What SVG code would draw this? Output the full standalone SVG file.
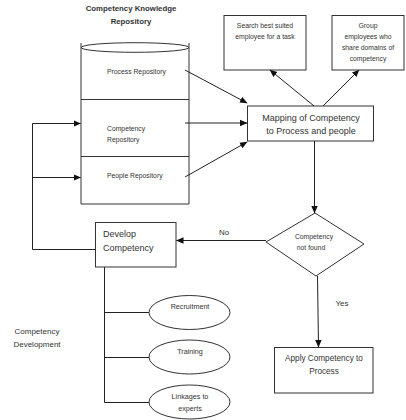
<svg xmlns="http://www.w3.org/2000/svg" width="406" height="420" viewBox="0 0 406 420">
<defs>
<marker id="ah" markerUnits="userSpaceOnUse" markerWidth="8" markerHeight="8" viewBox="0 0 8 8" refX="7" refY="4" orient="auto">
<path d="M0,0.8 L7.5,4 L0,7.2 Z" fill="#111"/>
</marker>
<style>
.s{fill:none;stroke:#333;stroke-width:1}
.b{fill:#fff;stroke:#333;stroke-width:1}
.c{stroke:#222;stroke-width:1;fill:none}
.a{marker-end:url(#ah)}
text{font-family:"Liberation Sans",Arial,sans-serif;fill:#333}
.m{text-anchor:middle}
</style>
</defs>
<rect width="406" height="420" fill="#fff"/>
<g id="title">
<text x="131" y="10.5" class="m" font-size="7.8" font-weight="bold" fill="#222">Competency Knowledge</text>
<text x="131" y="23.5" class="m" font-size="7.8" font-weight="bold" fill="#222">Repository</text>
</g>
<g id="repository">
<path class="s" d="M81,43 V204 H189 V43"/>
<ellipse class="s" cx="135" cy="47.5" rx="54" ry="4.8"/>
<line class="s" x1="81" y1="99.5" x2="189" y2="99.5"/>
<line class="s" x1="81" y1="156.5" x2="189" y2="156.5"/>
</g>
<g id="process-repository">
<text x="107" y="73.5" font-size="6.8">Process Repository</text>
</g>
<g id="competency-repository">
<text x="107" y="130.5" font-size="6.8">Competency</text>
<text x="107" y="141.5" font-size="6.8">Repository</text>
</g>
<g id="people-repository">
<text x="107" y="178" font-size="6.8">People Repository</text>
</g>
<g id="search">
<rect class="b" x="224" y="15.5" width="82" height="54.5"/>
<text x="265" y="27.5" class="m" font-size="6.8">Search best suited</text>
<text x="265" y="38.5" class="m" font-size="6.8">employee for a task</text>
</g>
<g id="group">
<rect class="b" x="332" y="15.5" width="72" height="54.5"/>
<text x="368" y="27.5" class="m" font-size="6.8">Group</text>
<text x="368" y="38.5" class="m" font-size="6.8">employees who</text>
<text x="368" y="49.5" class="m" font-size="6.8">share domains of</text>
<text x="368" y="60.5" class="m" font-size="6.8">competency</text>
</g>
<g id="mapping">
<rect class="b" x="247.5" y="106" width="126" height="35"/>
<text x="311" y="120.5" class="m" font-size="9">Mapping of Competency</text>
<text x="311" y="133.5" class="m" font-size="9">to Process and people</text>
</g>
<g id="decision">
<polygon class="b" points="315,213 364,244 316,276 266,242"/>
<text x="314" y="238.5" class="m" font-size="6.8">Competency</text>
<text x="311" y="249.5" class="m" font-size="6.8">not found</text>
</g>
<g id="develop">
<rect class="b" x="95.5" y="222.5" width="80.5" height="44.5"/>
<text x="103" y="236.5" font-size="9">Develop</text>
<text x="103" y="250.5" font-size="9">Competency</text>
</g>
<g id="apply">
<rect class="b" x="274.5" y="347.5" width="98.5" height="45.5"/>
<text x="324" y="361" class="m" font-size="8.2">Apply Competency to</text>
<text x="324" y="374" class="m" font-size="8.2">Process</text>
</g>
<g id="recruitment">
<ellipse class="b" cx="189.5" cy="312.5" rx="40.5" ry="17"/>
<text x="190" y="309" class="m" font-size="7.2">Recruitment</text>
</g>
<g id="training">
<ellipse class="b" cx="189.5" cy="357" rx="40.5" ry="17"/>
<text x="190" y="354" class="m" font-size="7.2">Training</text>
</g>
<g id="linkages">
<ellipse class="b" cx="189.5" cy="402" rx="40.5" ry="17"/>
<text x="190" y="399" class="m" font-size="7.2">Linkages to</text>
<text x="190" y="411" class="m" font-size="7.2">experts</text>
</g>
<g id="development-label">
<text x="37" y="334" class="m" font-size="8">Competency</text>
<text x="37" y="346.5" class="m" font-size="8">Development</text>
</g>
<g id="connectors">
<line class="c a" x1="185" y1="70" x2="247" y2="103"/>
<line class="c a" x1="185" y1="123" x2="247" y2="123"/>
<line class="c a" x1="185" y1="177" x2="247" y2="142"/>
<line class="c a" x1="314" y1="106" x2="270" y2="70"/>
<line class="c a" x1="323" y1="106" x2="359" y2="70"/>
<line class="c a" x1="314.5" y1="141" x2="314.5" y2="213"/>
<line class="c a" x1="266" y1="240.5" x2="176.5" y2="240.5"/>
<line class="c a" x1="317.5" y1="276" x2="318.5" y2="347"/>
<path class="c a" d="M95,249.5 H32.5 V123.5 H80.5"/>
<path class="c a" d="M32.5,177.5 H80.5"/>
<path class="c" d="M104.5,267 V402.5 H149 M104.5,312.5 H149 M104.5,357.5 H149"/>
<text x="224" y="235" class="m" font-size="8">No</text>
<text x="342" y="305.5" class="m" font-size="8">Yes</text>
</g>
</svg>
